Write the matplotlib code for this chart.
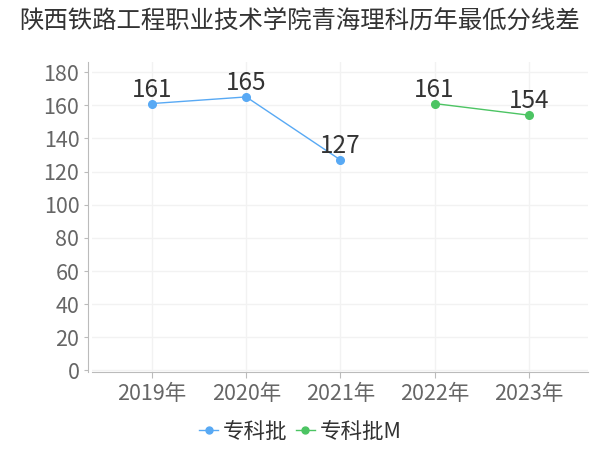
import numpy as np
import matplotlib
matplotlib.use('Agg')
import matplotlib.pyplot as plt
from matplotlib.lines import Line2D

plt.rcParams['font.family'] = ['Noto Sans CJK SC', 'DejaVu Sans']

#   data
years = ['2019年', '2020年', '2021年', '2022年', '2023年']
zhuanke = [161, 165, 127, np.nan, np.nan]
zhuanke_m = [np.nan, np.nan, np.nan, 161, 154]
title = '陕西铁路工程职业技术学院青海理科历年最低分线差'

blue = '#58a9f4'
green = '#4cc463'

fig = plt.figure(figsize=(6, 4.5), dpi=100)
ax = fig.add_axes([0.153, 0.173, 0.827, 0.689])

x = np.arange(len(years))
ax.plot(x, zhuanke, color=blue, lw=1, marker='o', ms=5.5, zorder=3)
ax.plot(x, zhuanke_m, color=green, lw=1, marker='o', ms=5.5, zorder=3)

#   labels on points
for vals in (zhuanke, zhuanke_m):
    for i, v in enumerate(vals):
        if not np.isnan(v):
            ax.text(i, v + 0.5, str(int(v)), ha='center', va='bottom',
                    fontsize=17.5, color='#333333')

ax.set_xlim(-0.64, 4.63)
ax.set_ylim(-1, 186)
ax.set_yticks(range(0, 181, 20))
ax.set_xticks(x)
ax.set_xticklabels(years)
ax.tick_params(axis='both', labelsize=15.5, colors='#666666', length=4,
               color='#bbbbbb')
ax.tick_params(axis='y', length=3, pad=3)
ax.grid(True, color='#f2f2f2', lw=1)
ax.set_axisbelow(True)
for s in ['top', 'right']:
    ax.spines[s].set_visible(False)
ax.spines['left'].set_color('#bbbbbb')
ax.spines['bottom'].set_color('#bbbbbb')
ax.spines['left'].set_position(('outward', 3))

fig.text(0.5, 0.955, title, ha='center', va='center', fontsize=17.6,
         color='#333333')

handles = [Line2D([], [], color=blue, lw=1, marker='o', ms=5),
           Line2D([], [], color=green, lw=1, marker='o', ms=5)]
fig.legend(handles, ['专科批', '专科批M'], loc='center', bbox_to_anchor=(0.5, 0.04),
           ncol=2, frameon=False, fontsize=15.5, handlelength=0.9,
           handletextpad=0.2, columnspacing=0.4, labelcolor='#333333')

fig.savefig('out.png', dpi=100)
